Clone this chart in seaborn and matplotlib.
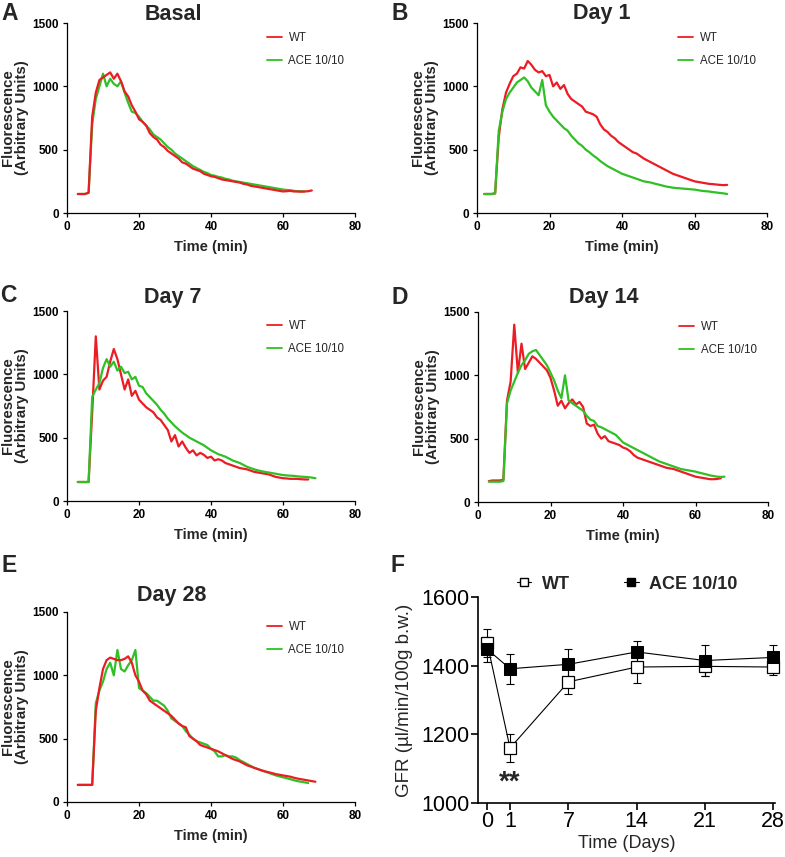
import numpy as np
import pandas as pd
import matplotlib
matplotlib.use("Agg")
import matplotlib.pyplot as plt
from matplotlib.lines import Line2D
import seaborn as sns

sns.set_style("ticks")
plt.rcParams["font.family"] = ["Liberation Sans", "DejaVu Sans"]

# ---------------- data (fluorescence traces, 1-min samples) ----------------
basal_start_wt = 3
basal_wt = [150, 150, 150, 160,
            760, 950, 1050, 1070, 1090, 1110,
            1060, 1100, 1040, 960, 920, 850, 800, 740, 720, 690,
            630, 600, 580, 540, 520, 490, 470, 450, 430, 400,
            390, 370, 350, 340, 330, 310, 300, 290, 285, 275,
            265, 260, 255, 250, 245, 240, 230, 225, 215, 210,
            205, 200, 195, 190, 185, 180, 175, 170, 172, 175,
            170, 170, 168, 170, 172, 178]
basal_start_ace = 3
basal_ace = [150, 150, 150, 160,
             700, 900, 1000, 1100, 1000, 1060,
             1020, 1000, 1040, 950, 870, 800, 790, 760, 720, 690,
             660, 620, 600, 580, 550, 520, 500, 470, 450, 430,
             410, 390, 370, 355, 340, 325, 315, 300, 295, 285,
             280, 270, 265, 255, 250, 245, 240, 235, 230, 225,
             220, 215, 210, 205, 200, 195, 190, 185, 182, 180,
             175, 172, 172, 170]

day1_start_wt = 2
day1_wt = [150, 150, 150, 155,
           600, 820, 950, 1020, 1080, 1100, 1150, 1140,
           1200, 1170, 1130, 1110, 1120, 1080, 1090, 1000, 1030, 980,
           1010, 940, 900, 880, 860, 840, 800, 790, 780, 760,
           700, 660, 640, 610, 590, 560, 540, 520, 500, 480,
           470, 450, 430, 415, 400, 385, 370, 355, 340, 325,
           310, 300, 290, 280, 270, 260, 250, 245, 240, 235,
           230, 228, 225, 222, 220, 222]
day1_start_ace = 2
day1_ace = [150, 150, 150, 155,
            650, 800, 900, 950, 990, 1030, 1050, 1070,
            1040, 990, 960, 930, 1050, 850, 800, 760, 730, 700,
            670, 650, 610, 580, 550, 530, 500, 480, 455, 435,
            410, 390, 370, 355, 340, 325, 310, 300, 290, 280,
            270, 260, 250, 245, 240, 232, 225, 218, 210, 205,
            200, 197, 195, 192, 190, 187, 185, 180, 175, 172,
            170, 165, 162, 158, 155, 150]

day7_start_wt = 3
day7_wt = [150, 150, 150, 150,
           700, 1300, 880, 950, 980, 1100,
           1200, 1120, 1000, 880, 960, 830, 870, 800, 770, 740,
           720, 700, 660, 640, 600, 560, 470, 520, 430, 470,
           420, 380, 400, 360, 380, 365, 340, 350, 320, 330,
           320, 300, 290, 280, 270, 260, 255, 250, 240, 230,
           225, 220, 215, 210, 200, 190, 185, 180, 178, 175,
           175, 175, 172, 170, 170]
day7_start_ace = 3
day7_ace = [150, 150, 150, 150,
            820, 880, 930, 1050, 1120, 1060,
            1100, 1030, 1060, 1010, 1020, 960, 980, 910, 900, 850,
            820, 790, 760, 720, 690, 650, 620, 590, 565, 540,
            520, 500, 485, 470, 455, 440, 420, 400, 385, 370,
            360, 350, 335, 320, 310, 300, 285, 270, 260, 250,
            242, 235, 230, 225, 220, 215, 210, 205, 202, 200,
            198, 195, 192, 190, 188, 185, 180]

day14_start_wt = 3
day14_wt = [165, 170, 170, 170, 175,
            800, 950, 1400, 1020, 1250, 1050,
            1100, 1150, 1130, 1100, 1070, 1040, 980, 880, 760,
            800, 740, 780, 810, 770, 790, 750, 620, 600, 610,
            540, 500, 520, 480, 470, 460, 450, 430, 420, 400,
            370, 350, 340, 330, 320, 310, 300, 290, 280, 270,
            265, 260, 250, 240, 230, 220, 210, 200, 195, 190,
            185, 180, 180, 182, 188]
day14_start_ace = 3
day14_ace = [160, 160, 160, 160, 165,
             780, 880, 950, 1020, 1080, 1120,
             1170, 1190, 1200, 1160, 1120, 1080, 1020, 960, 880,
             820, 1000, 800, 780, 760, 740, 720, 680, 650, 640,
             600, 590, 575, 560, 545, 530, 500, 470, 455, 440,
             425, 410, 395, 380, 365, 350, 335, 320, 310, 300,
             290, 280, 270, 260, 255, 250, 245, 240, 232, 225,
             218, 210, 205, 200, 198, 200]

day28_start_wt = 3
day28_wt = [135, 135, 135, 135, 135,
            720, 900, 1050, 1120, 1140, 1130,
            1120, 1120, 1130, 1150, 1100, 1000, 950, 880, 850,
            800, 780, 760, 740, 720, 700, 680, 650, 620, 600,
            590, 520, 500, 480, 450, 440, 430, 420, 410, 400,
            385, 370, 355, 340, 330, 320, 305, 290, 280, 270,
            260, 250, 242, 235, 228, 220, 215, 210, 205, 200,
            192, 185, 180, 175, 170, 165, 160]
day28_start_ace = 3
day28_ace = [135, 135, 135, 135, 135,
             780, 880, 950, 1050, 1100, 1000,
             1200, 1050, 1030, 1080, 1120, 1200, 900, 880, 860,
             830, 800, 800, 780, 760, 720, 660, 640, 620, 600,
             560, 530, 500, 480, 470, 460, 450, 420, 400, 360,
             360, 370, 360, 360, 350, 330, 315, 300, 285, 270,
             260, 250, 240, 230, 220, 210, 202, 195, 188, 180,
             172, 165, 160, 155, 150]

panel_titles = ["Basal", "Day 1", "Day 7", "Day 14", "Day 28"]
panel_letters = ["A", "B", "C", "D", "E", "F"]
group_labels = ["WT", "ACE 10/10"]

# GFR panel
gfr_days = [0, 1, 7, 14, 21, 28]
wt_mean = [1466, 1160, 1353, 1396, 1398, 1396]
wt_sem = [42, 42, 36, 46, 27, 24]
ace_mean = [1448, 1391, 1404, 1440, 1415, 1424]
ace_sem = [36, 44, 46, 32, 44, 35]

# ---------------- styling ----------------
RED = "#ec1c24"
GREEN = "#2fc025"
W, H = 785, 857

fig = plt.figure(figsize=(W / 100, H / 100), dpi=100)


def add_ax(l, t, r, b):
    return fig.add_axes([l / W, 1 - b / H, (r - l) / W, (b - t) / H])


def trace_df(start, vals, group):
    return pd.DataFrame({"t": np.arange(len(vals)) + start, "f": vals, "g": group})


traces = [
    (basal_start_wt, basal_wt, basal_start_ace, basal_ace, "ace_first"),
    (day1_start_wt, day1_wt, day1_start_ace, day1_ace, "wt_first"),
    (day7_start_wt, day7_wt, day7_start_ace, day7_ace, "wt_first"),
    (day14_start_wt, day14_wt, day14_start_ace, day14_ace, "wt_first"),
    (day28_start_wt, day28_wt, day28_start_ace, day28_ace, "ace_first"),
]
boxes = [(67, 23, 355, 213), (477, 23, 767, 213), (67, 311, 355, 501),
         (478, 312, 768, 502), (67, 612, 355, 802)]
title_pos = [(173, 14), (602, 14), (173, 298), (604, 297), (172, 596)]

for i, (sw, vw, sa, va_, order) in enumerate(traces):
    ax = add_ax(*boxes[i])
    dwt = trace_df(sw, vw, group_labels[0])
    dace = trace_df(sa, va_, group_labels[1])
    seq = [(dace, GREEN), (dwt, RED)] if order == "ace_first" else [(dwt, RED), (dace, GREEN)]
    for d, c in seq:
        sns.lineplot(data=d, x="t", y="f", color=c, lw=1.6, estimator=None,
                     sort=False, ax=ax, legend=False)
    ax.set_xlim(0, 80)
    ax.set_ylim(0, 1500)
    ax.set_xticks([0, 20, 40, 60, 80])
    ax.set_yticks([0, 500, 1000, 1500])
    for s in ["top", "right"]:
        ax.spines[s].set_visible(False)
    for s in ["left", "bottom"]:
        ax.spines[s].set_linewidth(0.9)
        ax.spines[s].set_color("black")
    ax.tick_params(length=3, width=0.9, pad=3, labelsize=8.5, colors="black")
    for lab in ax.get_xticklabels() + ax.get_yticklabels():
        lab.set_fontweight("bold")
    ax.set_xlabel("Time (min)", fontsize=10.5, fontweight="bold", labelpad=5)
    ax.set_ylabel("Fluorescence\n(Arbitrary Units)", fontsize=10.8,
                  fontweight="bold", labelpad=2, linespacing=1.0)
    handles = [Line2D([], [], color=RED, lw=1.3), Line2D([], [], color=GREEN, lw=1.3)]
    ax.legend(handles, group_labels, loc="upper left", bbox_to_anchor=(0.677, 0.975),
              frameon=False, fontsize=8.3, handlelength=1.3, handletextpad=0.6,
              labelspacing=0.95, borderaxespad=0)
    tx, ty = title_pos[i]
    fig.text(tx / W, 1 - ty / H, panel_titles[i], ha="center", va="center",
             fontsize=15.5, fontweight="bold")

# ---------------- panel F: GFR ----------------
axf = add_ax(478, 597, 775, 803)


def fwd(d):
    d = np.asarray(d, dtype=float)
    return np.where(d < 1, -1.35 + d * 2.35, d)


def inv(p):
    p = np.asarray(p, dtype=float)
    return np.where(p < 1, (p + 1.35) / 2.35, p)


axf.set_xscale("function", functions=(fwd, inv))
axf.errorbar(gfr_days, wt_mean, yerr=wt_sem, fmt="none", ecolor="black",
             elinewidth=0.8, capsize=3, capthick=0.8, zorder=2, clip_on=False)
axf.errorbar(gfr_days, ace_mean, yerr=ace_sem, fmt="none", ecolor="black",
             elinewidth=0.8, capsize=3, capthick=0.8, zorder=2, clip_on=False)
gdf = pd.DataFrame({"day": gfr_days + gfr_days, "gfr": wt_mean + ace_mean,
                    "g": [group_labels[0]] * 6 + [group_labels[1]] * 6})
sns.lineplot(data=gdf[gdf.g == group_labels[0]], x="day", y="gfr", color="black",
             lw=0.8, marker="s", markersize=8, markerfacecolor="white",
             markeredgecolor="black", markeredgewidth=0.9, estimator=None,
             ax=axf, legend=False, zorder=3, clip_on=False)
sns.lineplot(data=gdf[gdf.g == group_labels[1]], x="day", y="gfr", color="black",
             lw=0.8, marker="s", markersize=8.5, markerfacecolor="black",
             markeredgecolor="black", estimator=None, ax=axf, legend=False,
             zorder=4, clip_on=False)
axf.set_xlim(-0.40, 28.2)
axf.set_ylim(1000, 1600)
axf.set_xticks(gfr_days)
axf.set_xticklabels([str(d) for d in gfr_days])
axf.set_yticks([1000, 1200, 1400, 1600])
axf.minorticks_off()
for s in ["top", "right"]:
    axf.spines[s].set_visible(False)
for s in ["left", "bottom"]:
    axf.spines[s].set_linewidth(1.2)
    axf.spines[s].set_color("black")
axf.tick_params(length=5, width=1.2, pad=1, labelsize=15.5, colors="black")
axf.set_xlabel("Time (Days)", fontsize=13, labelpad=2)
axf.set_ylabel("GFR (\u00b5l/min/100g b.w.)", fontsize=13.5, labelpad=6)
axf.text(1, 1060, "**", ha="center", va="center", fontsize=20, fontweight="bold")
fh = [Line2D([], [], color="black", lw=0.8, marker="s", ms=6, mfc="white", mec="black"),
      Line2D([], [], color="black", lw=0.8, marker="s", ms=6, mfc="black", mec="black")]
axf.legend(fh, group_labels, ncol=2, loc="center left", bbox_to_anchor=(0.13, 1.063),
           frameon=False, prop={"weight": "bold", "size": 13}, handlelength=0.8,
           handletextpad=0.6, columnspacing=3.0, borderpad=0, borderaxespad=0)

# panel letters
letter_pos = [(10, 14), (400, 14), (8, 296), (400, 298), (9, 566), (398, 566)]
for (lx, ly), L in zip(letter_pos, panel_letters):
    fig.text(lx / W, 1 - ly / H, L, ha="center", va="center", fontsize=16.5,
             fontweight="bold")

fig.savefig("out.png", dpi=100)
